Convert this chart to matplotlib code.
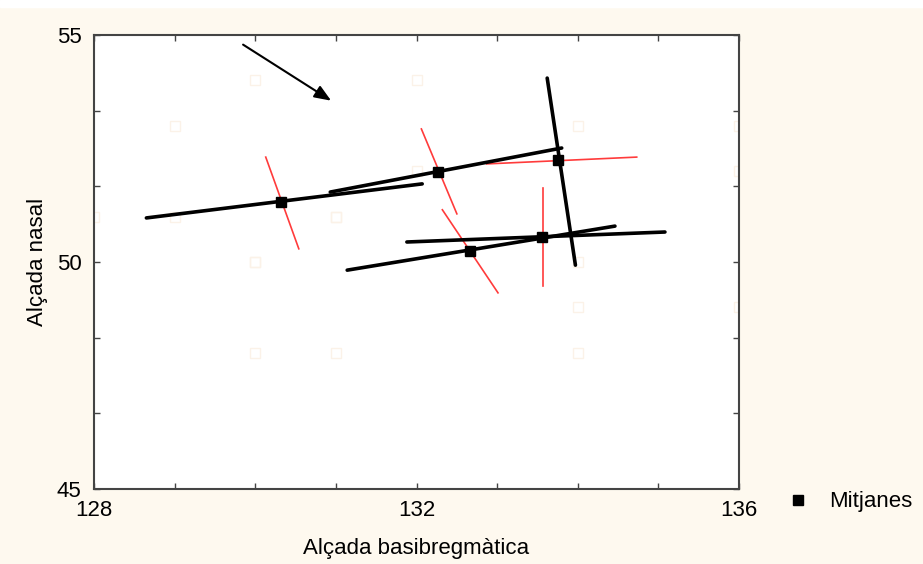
import matplotlib
matplotlib.use("Agg")
from matplotlib import pyplot as plt
from matplotlib.lines import Line2D
from matplotlib.patches import Rectangle
from matplotlib.ticker import MultipleLocator

plt.rcParams["font.family"] = ["Liberation Sans", "DejaVu Sans"]

# individual cases (drawn very faint)
case_x = [128, 129, 129, 130, 130, 130, 130, 131, 131, 131, 132, 132, 134, 134, 134, 134, 136, 136, 136]
case_y = [51, 53, 51, 54, 50, 48, 50, 51, 48, 51, 54, 52, 53, 50, 49, 48, 53, 52, 49]

# group means
mean_x = [130.32, 132.27, 133.76, 132.66, 133.56]
mean_y = [51.32, 51.98, 52.25, 50.24, 50.55]

# major axis of each group (black), as start/end points
major_x0 = [128.65, 130.93, 133.62, 131.14, 131.88]
major_y0 = [50.97, 51.54, 54.05, 49.82, 50.44]
major_x1 = [132.07, 133.80, 133.97, 134.46, 135.08]
major_y1 = [51.72, 52.51, 49.93, 50.79, 50.66]

# minor axis of each group (red)
minor_x0 = [130.13, 132.06, 132.87, 132.32, 133.57]
minor_y0 = [52.31, 52.93, 52.16, 51.15, 51.63]
minor_x1 = [130.54, 132.50, 134.73, 133.01, 133.57]
minor_y1 = [50.29, 51.06, 52.31, 49.32, 49.47]

arrow_start = (129.82, 54.82)
arrow_end = (130.97, 53.52)

cream = "#FEF9EF"
axis_col = "#444444"
fs = 16

fig = plt.figure(figsize=(9.23, 5.64), dpi=100, facecolor=cream)
fig.patches.append(Rectangle((0, 0.988), 1, 0.012, transform=fig.transFigure, color="white", zorder=0))
ax = fig.add_axes([0.1018, 0.133, 0.699, 0.805])
ax.set_facecolor("white")

ax.plot(case_x, case_y, "s", ms=6.5, mfc="none", mec="#FBF2E8", mew=1.0, zorder=1)

for i in range(len(mean_x)):
    ax.plot([major_x0[i], major_x1[i]], [major_y0[i], major_y1[i]], color="black", lw=2.6,
            solid_capstyle="round", zorder=3)
    ax.plot([minor_x0[i], minor_x1[i]], [minor_y0[i], minor_y1[i]], color="#FF3B3B", lw=1.2, zorder=2)

ax.plot(mean_x, mean_y, "s", ms=7.5, color="black", zorder=4, label="Mitjanes")

ax.annotate("", xy=arrow_end, xytext=arrow_start,
            arrowprops=dict(arrowstyle="-|>,head_length=1.0,head_width=0.4", color="black", lw=1.5))

ax.set_xlim(128, 136)
ax.set_ylim(45, 55)
ax.set_xticks([128, 132, 136])
ax.set_yticks([45, 50, 55])
ax.xaxis.set_minor_locator(MultipleLocator(1))
ax.yaxis.set_minor_locator(MultipleLocator(10 / 6))
ax.tick_params(which="both", direction="in", top=True, right=True, length=4, width=1, color=axis_col,
               labelsize=fs)
ax.tick_params(axis="x", pad=8)
ax.tick_params(axis="y", pad=9)
for spine in ax.spines.values():
    spine.set_color(axis_col)
    spine.set_linewidth(1.5)

ax.set_xlabel("Alçada basibregmàtica", fontsize=fs, labelpad=12)
ax.set_ylabel("Alçada nasal", fontsize=fs, labelpad=6)

handle = Line2D([], [], marker="s", ls="none", color="black", ms=7.5)
fig.legend([handle], ["Mitjanes"], loc="center left", bbox_to_anchor=(0.8305, 0.11), frameon=False,
           fontsize=fs, handlelength=1.0, handletextpad=0.93)

fig.savefig("out.png", dpi=100, facecolor=cream)
